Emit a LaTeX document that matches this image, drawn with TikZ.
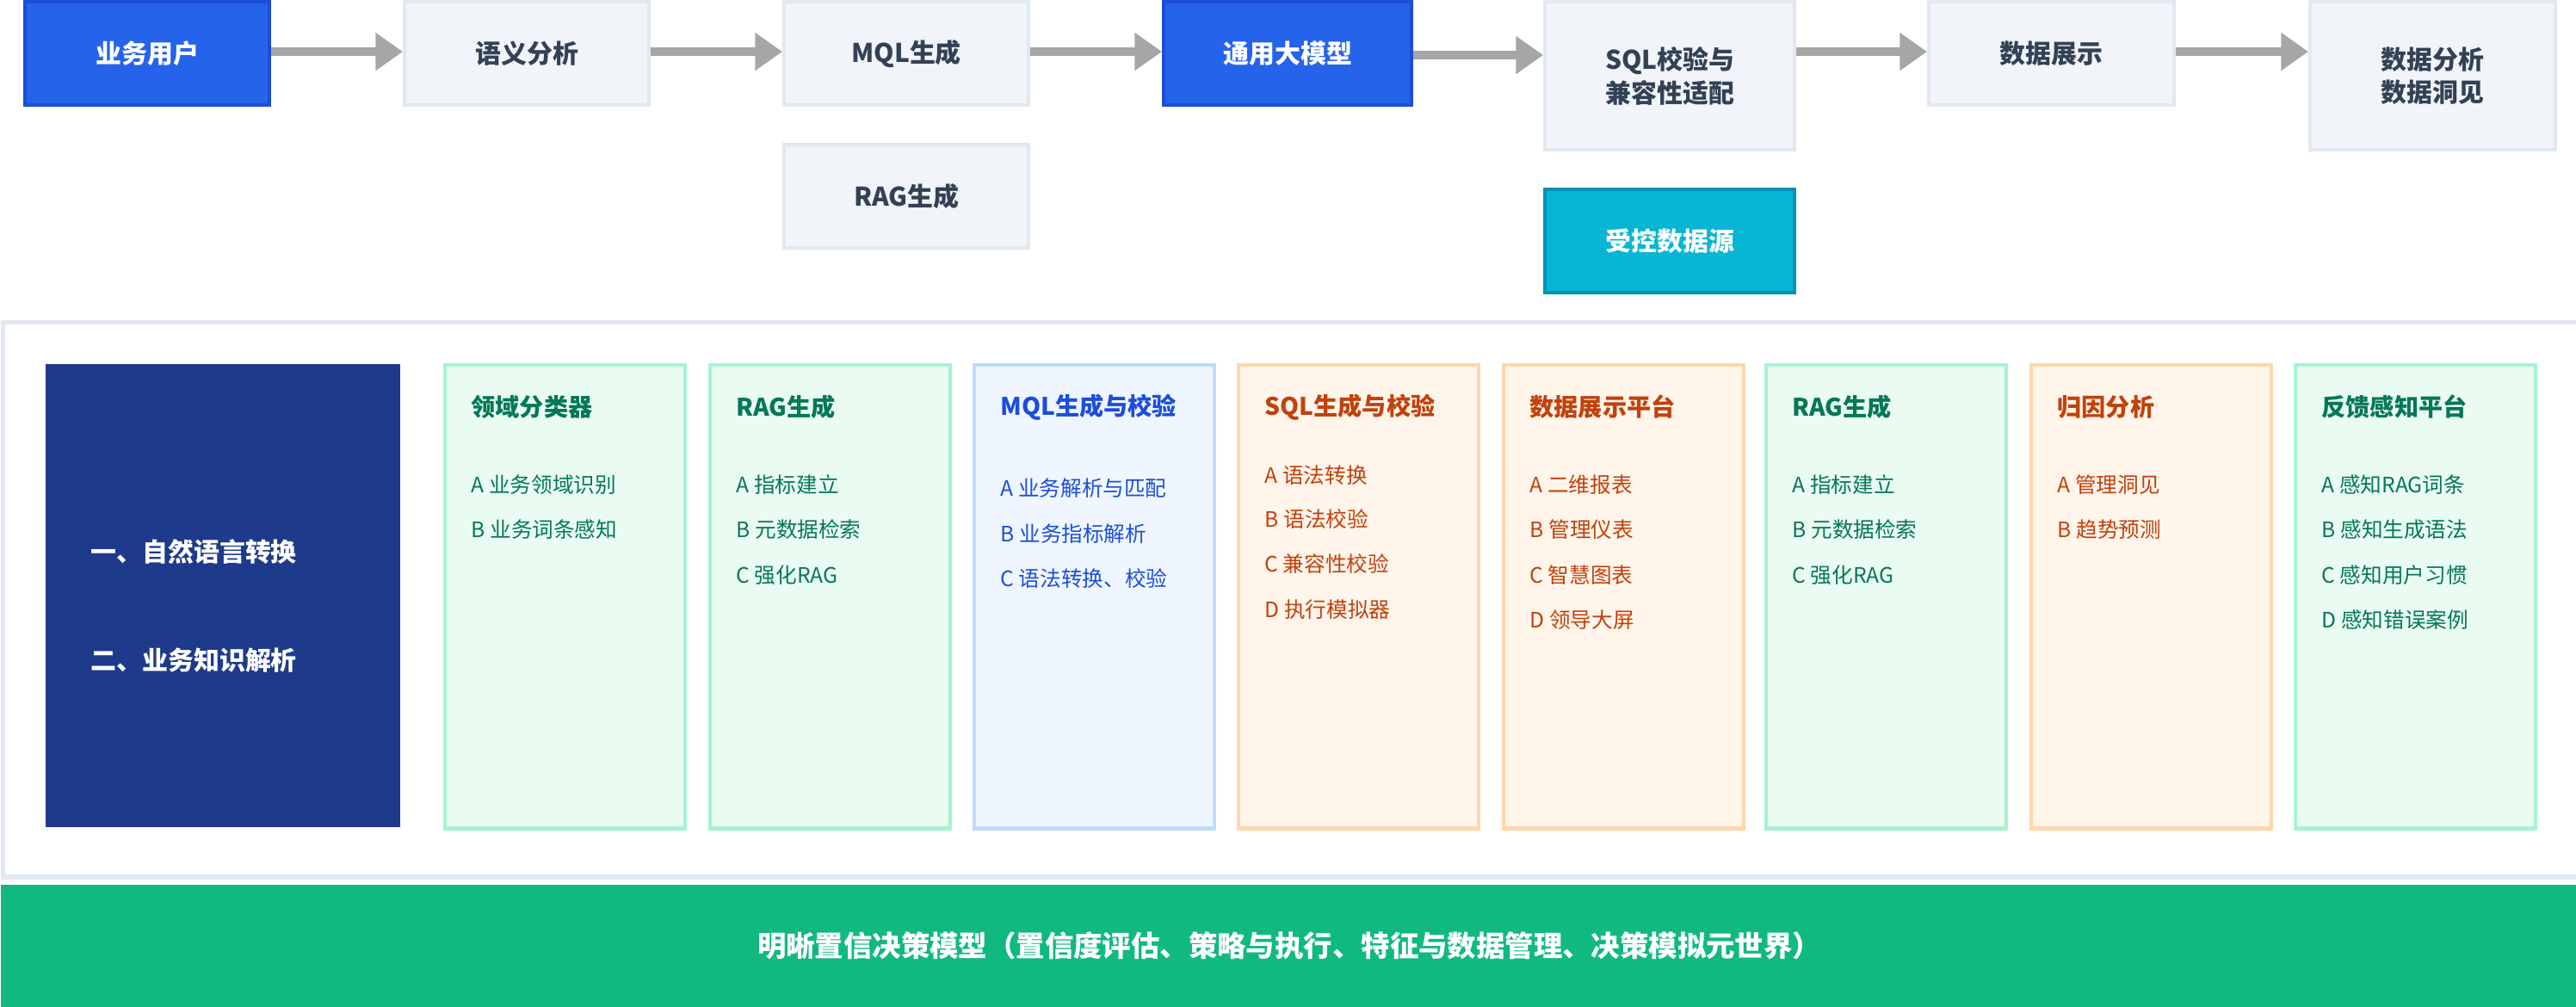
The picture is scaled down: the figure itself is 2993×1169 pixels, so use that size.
\documentclass[tikz,border=0pt]{standalone}
\usepackage{fontspec}
\setmainfont{Noto Sans CJK SC}
\usetikzlibrary{arrows.meta}
\definecolor{gfill}{HTML}{EAFBF2}\definecolor{gline}{HTML}{A7F3D0}\definecolor{gtext}{HTML}{047857}
\definecolor{bfill}{HTML}{EFF6FF}\definecolor{bline}{HTML}{BFDBFE}\definecolor{btext}{HTML}{1D4ED8}
\definecolor{ofill}{HTML}{FFF5EB}\definecolor{oline}{HTML}{FED7AA}\definecolor{otext}{HTML}{C2410C}
\definecolor{gray1}{HTML}{F1F5F9}\definecolor{gray2}{HTML}{E2E8F0}\definecolor{slate}{HTML}{334155}
\definecolor{blue1}{HTML}{2563EB}\definecolor{blue2}{HTML}{1D4ED8}\definecolor{navy}{HTML}{1E3A8A}
\definecolor{cyan1}{HTML}{06B6D4}\definecolor{cyan2}{HTML}{0891B2}\definecolor{emer}{HTML}{10B981}
\definecolor{arr}{HTML}{A6A6A6}
\begin{document}
\begin{tikzpicture}[x=0.01cm,y=-0.01cm,
 top/.style={draw=gray2,line width=1.2pt,fill=gray1,text=slate,font=\fontsize{8.5}{11}\selectfont\bfseries,align=center,anchor=north west,inner sep=0},
 topb/.style={top,draw=blue2,fill=blue1,text=white},
 flow/.style={draw=arr,line width=2.6pt,-{Triangle[length=9pt,width=12pt]}},
 col/.style={line width=1.2pt,anchor=north west,minimum width=2.79cm,minimum height=5.38cm,inner sep=0},
 ttl/.style={font=\fontsize{8}{10}\selectfont\bfseries,anchor=west,inner sep=0},
 itm/.style={font=\fontsize{7}{9}\selectfont,anchor=west,inner sep=0}]
\useasboundingbox (0,0) rectangle (2993,1169);
\node[topb,minimum width=2.84cm,minimum height=1.2cm] (u) at (27,0) {业务用户};
\node[top,minimum width=2.84cm,minimum height=1.2cm] (s) at (468,0) {语义分析};
\node[top,minimum width=2.84cm,minimum height=1.2cm] (m) at (909,0) {MQL生成};
\node[top,minimum width=2.84cm,minimum height=1.2cm] (r) at (909,166) {RAG生成};
\node[topb,minimum width=2.88cm,minimum height=1.2cm] (l) at (1350,0) {通用大模型};
\node[top,minimum width=2.9cm,minimum height=1.72cm] (q) at (1793,0) {SQL校验与\\兼容性适配};
\node[top,draw=cyan2,fill=cyan1,text=white,minimum width=2.9cm,minimum height=1.2cm] (c) at (1793,218) {受控数据源};
\node[top,minimum width=2.85cm,minimum height=1.2cm] (d) at (2239,0) {数据展示};
\node[top,minimum width=2.85cm,minimum height=1.72cm] (a) at (2682,0) {数据分析\\数据洞见};
\draw[flow] (u.east|-0,60) -- (s.west|-0,60);
\draw[flow] (s.east|-0,60) -- (m.west|-0,60);
\draw[flow] (m.east|-0,60) -- (l.west|-0,60);
\draw[flow] (l.east|-0,64) -- (q.west|-0,64);
\draw[flow] (q.east|-0,60) -- (d.west|-0,60);
\draw[flow] (d.east|-0,60) -- (a.west|-0,60);
\node[draw=gray2,line width=1.5pt,fill=white,anchor=north west,minimum width=29.9cm,minimum height=6.44cm,inner sep=0] (panel) at (1,372) {};
\node[fill=navy,anchor=north west,minimum width=4.12cm,minimum height=5.38cm,inner sep=0] (nv) at (52,422) {};
\node[anchor=west,text=white,font=\fontsize{8.5}{11}\selectfont\bfseries,inner sep=0] (t1) at (105,641) {一、自然语言转换};
\node[anchor=west,text=white,font=\fontsize{8.5}{11}\selectfont\bfseries,inner sep=0] (t2) at (105,767) {二、业务知识解析};
\foreach \x/\k/\t [count=\i] in {515/g/领域分类器,823/g/RAG生成,1130/b/MQL生成与校验,1437/o/SQL生成与校验,1745/o/数据展示平台,2050/g/RAG生成,2358/o/归因分析,2665/g/反馈感知平台}{
 \node[col,draw=\k line,fill=\k fill] (col\i) at (\x,422) {};
 \node[ttl,text=\k text] (h\i) at (\x+32,473) {\t};
}
\node[itm,text=gtext] (i11) at (547,563) {A 业务领域识别};
\node[itm,text=gtext] (i12) at (547,615) {B 业务词条感知};
\node[itm,text=gtext] (i21) at (855,563) {A 指标建立};
\node[itm,text=gtext] (i22) at (855,615) {B 元数据检索};
\node[itm,text=gtext] (i23) at (855,668) {C 强化RAG};
\node[itm,text=btext] (i31) at (1162,567) {A 业务解析与匹配};
\node[itm,text=btext] (i32) at (1162,620) {B 业务指标解析};
\node[itm,text=btext] (i33) at (1162,672) {C 语法转换、校验};
\node[itm,text=otext] (i41) at (1469,552) {A 语法转换};
\node[itm,text=otext] (i42) at (1469,603) {B 语法校验};
\node[itm,text=otext] (i43) at (1469,655) {C 兼容性校验};
\node[itm,text=otext] (i44) at (1469,708) {D 执行模拟器};
\node[itm,text=otext] (i51) at (1777,563) {A 二维报表};
\node[itm,text=otext] (i52) at (1777,615) {B 管理仪表};
\node[itm,text=otext] (i53) at (1777,668) {C 智慧图表};
\node[itm,text=otext] (i54) at (1777,720) {D 领导大屏};
\node[itm,text=gtext] (i61) at (2082,563) {A 指标建立};
\node[itm,text=gtext] (i62) at (2082,615) {B 元数据检索};
\node[itm,text=gtext] (i63) at (2082,668) {C 强化RAG};
\node[itm,text=otext] (i71) at (2390,563) {A 管理洞见};
\node[itm,text=otext] (i72) at (2390,615) {B 趋势预测};
\node[itm,text=gtext] (i81) at (2697,563) {A 感知RAG词条};
\node[itm,text=gtext] (i82) at (2697,615) {B 感知生成语法};
\node[itm,text=gtext] (i83) at (2697,668) {C 感知用户习惯};
\node[itm,text=gtext] (i84) at (2697,720) {D 感知错误案例};
\node[fill=emer,anchor=north west,minimum width=29.93cm,minimum height=1.42cm,inner sep=0,text=white,font=\fontsize{9.5}{12}\selectfont\bfseries] (bar) at (0,1027) {明晰置信决策模型（置信度评估、策略与执行、特征与数据管理、决策模拟元世界）};
\end{tikzpicture}
\end{document}
